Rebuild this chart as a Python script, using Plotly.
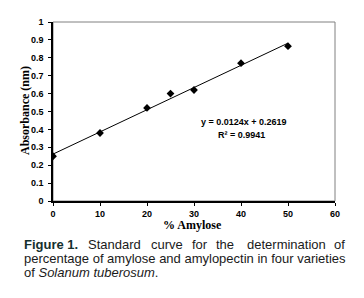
import plotly.graph_objects as go

# Data
amylose_pct = [0, 10, 20, 25, 30, 40, 50]
absorbance = [0.25, 0.38, 0.52, 0.60, 0.62, 0.77, 0.865]
slope = 0.0124
intercept = 0.2619
r2 = 0.9941
x_ticks = [0, 10, 20, 30, 40, 50, 60]
y_ticks = [0, 0.1, 0.2, 0.3, 0.4, 0.5, 0.6, 0.7, 0.8, 0.9, 1]
y_tick_labels = ["0", "0.1", "0.2", "0.3", "0.4", "0.5", "0.6", "0.7", "0.8", "0.9", "1"]
caption_line1 = ["<b>Figure 1.</b>", "Standard", "curve", "for", "the", "determination", "of"]
caption_line2 = "percentage of amylose and amylopectin in four varieties"
caption_line3 = "of <i>Solanum tuberosum</i>."

W, H = 364, 298
ML, MR, MT, MB = 53, 29, 22, 97
PW, PH = W - ML - MR, H - MT - MB

def px(x):
    return (x - ML) / PW

def py(y):
    return (H - MB - y) / PH

trend_x = [min(amylose_pct), max(amylose_pct)]
trend_y = [slope * v + intercept for v in trend_x]

fig = go.Figure()
fig.add_trace(go.Scatter(x=trend_x, y=trend_y, mode="lines",
                         line=dict(color="black", width=1), showlegend=False,
                         hoverinfo="skip"))
fig.add_trace(go.Scatter(x=amylose_pct, y=absorbance, mode="markers",
                         marker=dict(symbol="diamond", size=6, color="black"),
                         showlegend=False))

tick_font = dict(family="Liberation Sans, Arial", size=9, color="black", weight="bold")

fig.update_layout(
    width=W, height=H,
    margin=dict(l=ML, r=MR, t=MT, b=MB, pad=0),
    paper_bgcolor="white", plot_bgcolor="white",
    xaxis=dict(range=[0, 60], tickvals=x_ticks, showgrid=False, zeroline=False,
               showline=True, linecolor="black", linewidth=1.5,
               ticks="outside", ticklen=3, tickcolor="black", tickwidth=1,
               tickfont=tick_font, ticklabelstandoff=0),
    yaxis=dict(range=[0, 1], tickvals=y_ticks, ticktext=y_tick_labels,
               showgrid=False, zeroline=False,
               showline=True, linecolor="black", linewidth=1.5,
               ticks="outside", ticklen=3, tickcolor="black", tickwidth=1,
               tickfont=tick_font, ticklabelstandoff=3),
    shapes=[dict(type="rect", xref="paper", yref="paper", x0=0, y0=0, x1=1, y1=1,
                 line=dict(color="#808080", width=1), layer="below")],
)

serif_bold = dict(family="Liberation Serif, Times New Roman", size=12, color="black", weight="bold")
ann = []
ann.append(dict(text="% Amylose", xref="paper", yref="paper", x=px(192), y=py(225),
                xanchor="center", yanchor="middle", showarrow=False, font=serif_bold))
ann.append(dict(text="Absorbance (nm)", xref="paper", yref="paper", x=px(25), y=py(111),
                xanchor="center", yanchor="middle", showarrow=False, textangle=-90,
                font=serif_bold))
eq_font = dict(family="Liberation Sans, Arial", size=9, color="black", weight="bold")
ann.append(dict(text=f"y = {slope}x + {intercept}", xref="paper", yref="paper",
                x=px(244), y=py(122), xanchor="center", yanchor="middle",
                showarrow=False, font=eq_font))
ann.append(dict(text=f"R² = {r2}", xref="paper", yref="paper",
                x=px(241), y=py(135), xanchor="center", yanchor="middle",
                showarrow=False, font=eq_font))

cap_font = dict(family="Liberation Sans, Arial", size=13, color="#1a1a1a")
word_x = [22, 86, 149, 190, 214, 245, 332]
for w, xw in zip(caption_line1, word_x):
    f = dict(cap_font)
    if "Figure" in w:
        f["color"] = "#14302e"
    ann.append(dict(text=w, xref="paper", yref="paper", x=px(xw), y=py(244.5),
                    xanchor="left", yanchor="middle", showarrow=False, font=f))
ann.append(dict(text=caption_line2, xref="paper", yref="paper", x=px(22), y=py(258.5),
                xanchor="left", yanchor="middle", showarrow=False, font=cap_font))
ann.append(dict(text=caption_line3, xref="paper", yref="paper", x=px(22), y=py(272),
                xanchor="left", yanchor="middle", showarrow=False, font=cap_font))
fig.update_layout(annotations=ann)

fig.write_html("out.html", config={"displayModeBar": False},
               post_script="document.body.style.margin='0';document.body.style.overflow='hidden';")
